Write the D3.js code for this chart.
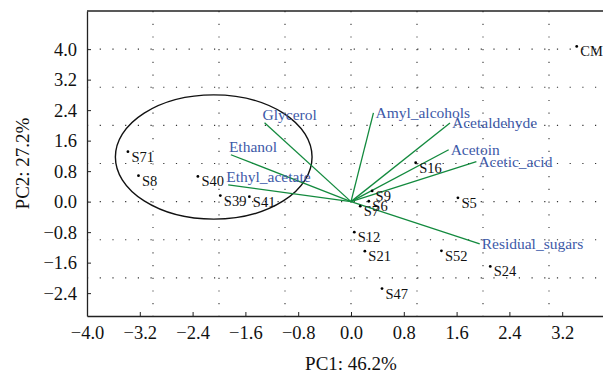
<!DOCTYPE html>
<html>
<head>
<meta charset="utf-8">
<script src="https://cdn.jsdelivr.net/npm/d3@7/dist/d3.min.js"></script>
<style>
  body { margin: 0; background: #fff; }
  svg text { font-family: "Liberation Serif", "DejaVu Serif", serif; }
</style>
</head>
<body>
<div id="vis"></div>
<script>
// sample scores
var sampleNames = ["S71", "S8", "S40", "S39", "S41", "S16", "S9", "S6", "S7", "S5", "S12", "S21", "S52", "S24", "S47", "CM"];
var sampleX = [-3.38, -3.22, -2.32, -1.98, -1.54, 0.98, 0.32, 0.27, 0.14, 1.62, 0.05, 0.21, 1.37, 2.11, 0.47, 3.42];
var sampleY = [1.31, 0.68, 0.66, 0.16, 0.13, 1.02, 0.28, 0.01, -0.12, 0.10, -0.80, -1.30, -1.29, -1.70, -2.28, 4.07];

// variable loadings (vector ends)
var varNames = ["Glycerol", "Ethanol", "Ethyl_acetate", "Amyl_alcohols", "Acetaldehyde", "Acetoin", "Acetic_acid", "Residual_sugars"];
var varX = [-1.31, -1.82, -1.86, 0.34, 1.50, 1.48, 1.90, 1.95];
var varY = [2.07, 1.23, 0.44, 2.33, 2.06, 1.36, 1.05, -1.11];

var xTicks = [-4.0, -3.2, -2.4, -1.6, -0.8, 0.0, 0.8, 1.6, 2.4, 3.2];
var yTicks = [-2.4, -1.6, -0.8, 0.0, 0.8, 1.6, 2.4, 3.2, 4.0];
var gridX = [-3, -2, -1, 0, 1, 2, 3];
var gridY = [-2, -1, 0, 1, 2, 3, 4];

// group ellipse: cx, cy, rx, ry
var groupEllipse = [-2.08, 1.17, 1.49, 1.63];

var width = 603, height = 377;
var margin = { top: 11, right: -1, bottom: 61, left: 87 };
var w = width - margin.left - margin.right,
  h = height - margin.top - margin.bottom;

var svg = d3.select("#vis")
  .append("svg")
  .attr("width", width)
  .attr("height", height);

var g = svg.append("g")
  .attr("transform", "translate(" + margin.left + "," + margin.top + ")");

var x = d3.scaleLinear().domain([-4, -4 + w / 66]).range([0, w]);
var y = d3.scaleLinear().domain([-3, 5]).range([h, 0]);

var fmt = function (d) { return d3.format(".1f")(d).replace("-", "\u2212"); };

////////// grid //////////
g.selectAll(".gx").data(gridX).enter().append("line")
  .attr("x1", x).attr("x2", x).attr("y1", 0).attr("y2", h)
  .attr("stroke", "#333").attr("stroke-width", 1.1)
  .attr("stroke-dasharray", "1.2,11.5");
g.selectAll(".gy").data(gridY).enter().append("line")
  .attr("y1", y).attr("y2", y).attr("x1", 0).attr("x2", w)
  .attr("stroke", "#333").attr("stroke-width", 1.1)
  .attr("stroke-dasharray", "1.2,11.5");

////////// axes //////////
var xAxis = g.append("g")
  .attr("transform", "translate(0," + h + ")")
  .call(d3.axisBottom(x).tickValues(xTicks).tickSizeInner(-4).tickSizeOuter(0).tickPadding(10).tickFormat(fmt));
var yAxis = g.append("g")
  .call(d3.axisLeft(y).tickValues(yTicks).tickSizeInner(-4).tickSizeOuter(0).tickPadding(10).tickFormat(fmt));
[xAxis, yAxis].forEach(function (a) {
  a.select(".domain").attr("stroke", "#222").attr("stroke-width", 1.3);
  a.selectAll(".tick line").attr("stroke", "#222");
  a.selectAll("text").attr("font-size", 18.5).attr("fill", "#111")
    .attr("font-family", "Liberation Serif, serif");
});
yAxis.selectAll("text").attr("dy", "0.32em");
// top frame line
g.append("line").attr("x1", 0).attr("x2", w).attr("y1", 0).attr("y2", 0)
  .attr("stroke", "#222").attr("stroke-width", 1.3);

svg.append("text")
  .attr("x", margin.left + x(0))
  .attr("y", 370)
  .attr("text-anchor", "middle")
  .attr("font-size", 19).attr("fill", "#111")
  .text("PC1: 46.2%");
svg.append("text")
  .attr("transform", "translate(29," + (margin.top + h / 2) + ") rotate(-90)")
  .attr("text-anchor", "middle")
  .attr("font-size", 19).attr("fill", "#111")
  .text("PC2: 27.2%");

////////// ellipse //////////
g.append("ellipse")
  .attr("cx", x(groupEllipse[0]))
  .attr("cy", y(groupEllipse[1]))
  .attr("rx", x(groupEllipse[2]) - x(0))
  .attr("ry", y(0) - y(groupEllipse[3]))
  .attr("fill", "none").attr("stroke", "#111").attr("stroke-width", 1.4);

////////// vectors //////////
var vars = varNames.map(function (n, i) { return { name: n, x: varX[i], y: varY[i] }; });
g.selectAll(".vec").data(vars).enter().append("line")
  .attr("x1", x(0)).attr("y1", y(0))
  .attr("x2", function (d) { return x(d.x); })
  .attr("y2", function (d) { return y(d.y); })
  .attr("stroke", "#138a3e").attr("stroke-width", 1.3);
g.selectAll(".vlab").data(vars).enter().append("text")
  .attr("x", function (d) { return x(d.x) + (d.x < 0 ? -2 : 2); })
  .attr("y", function (d) { return y(d.y) + (d.x < 0 ? -3 : 5); })
  .attr("font-size", 15.5).attr("fill", "#3d59a8")
  .text(function (d) { return d.name; });

////////// samples //////////
var samples = sampleNames.map(function (n, i) { return { name: n, x: sampleX[i], y: sampleY[i] }; });
g.selectAll(".pt").data(samples).enter().append("circle")
  .attr("cx", function (d) { return x(d.x); })
  .attr("cy", function (d) { return y(d.y); })
  .attr("r", 1.4).attr("fill", "#000");
g.selectAll(".plab").data(samples).enter().append("text")
  .attr("x", function (d) { return x(d.x) + 3.5; })
  .attr("y", function (d) { return y(d.y) + 10; })
  .attr("font-size", 14.5).attr("fill", "#111")
  .text(function (d) { return d.name; });
</script>
</body>
</html>
